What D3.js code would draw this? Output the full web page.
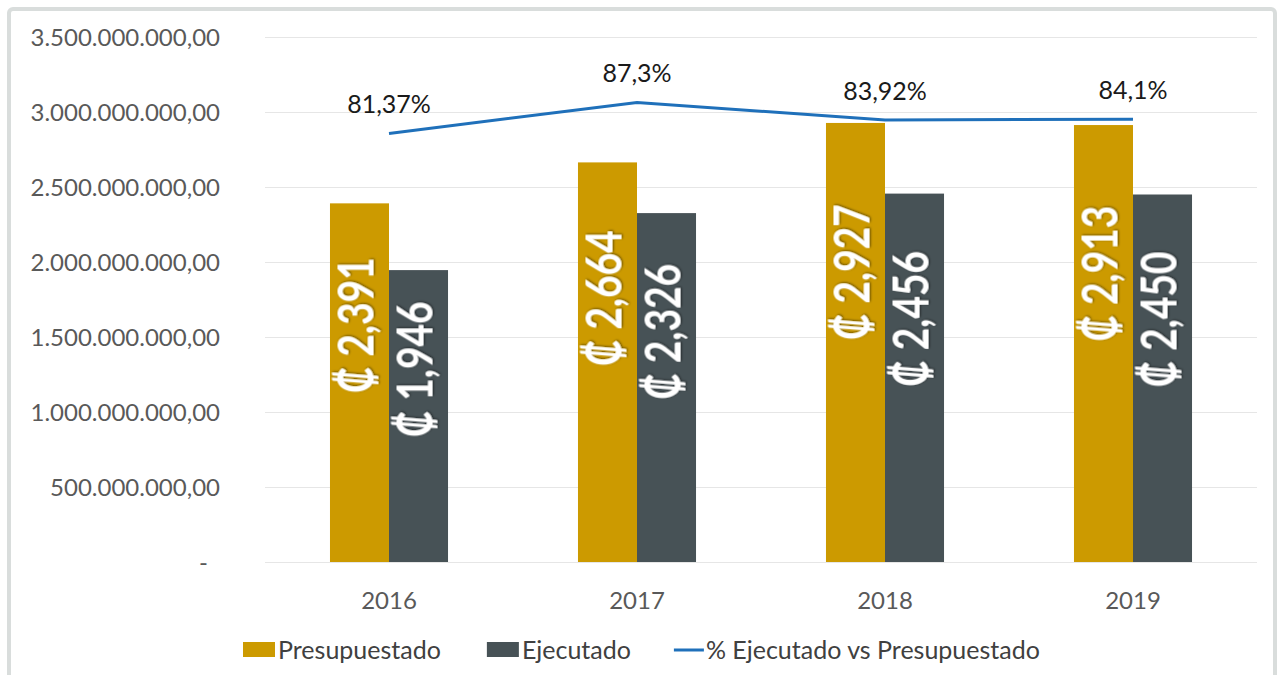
<!DOCTYPE html>
<html>
<head>
<meta charset="utf-8">
<script src="https://cdn.jsdelivr.net/npm/d3@7"></script>
<style>
  body { margin: 0; background: #fff; }
  svg text { font-family: Lato, "Open Sans", sans-serif; }
</style>
</head>
<body>
<div id="chart"></div>
<script>
// data
const years = ["2016", "2017", "2018", "2019"];
const presupuestado = [2391, 2664, 2927, 2913];   // millones de colones
const ejecutado = [1946, 2326, 2456, 2450];
const pctEjecutado = [81.37, 87.3, 83.92, 84.1];
const pctLabels = ["81,37%", "87,3%", "83,92%", "84,1%"];
const yTicks = [0, 500, 1000, 1500, 2000, 2500, 3000, 3500];
const seriesNames = ["Presupuestado", "Ejecutado"];
const lineName = "% Ejecutado vs Presupuestado";

const colors = { Presupuestado: "#CC9A00", Ejecutado: "#475256" };
const lineColor = "#1F70BA";

const W = 1278, H = 675;
const margin = { top: 37, left: 265, right: 21, bottom: 113 };
const width = W - margin.left - margin.right;
const height = H - margin.top - margin.bottom;

const svg = d3.select("#chart").append("svg")
  .attr("width", W)
  .attr("height", H);

// outer frame
svg.append("rect")
  .attr("x", 9).attr("y", 9)
  .attr("width", 1266).attr("height", 700)
  .attr("rx", 4)
  .attr("fill", "none")
  .attr("stroke", "#D9DDDC")
  .attr("stroke-width", 4);

// shadow for bar labels
const defs = svg.append("defs");
defs.append("filter").attr("id", "shadow")
  .attr("x", "-20%").attr("y", "-20%").attr("width", "140%").attr("height", "140%")
  .append("feDropShadow")
  .attr("dx", 1).attr("dy", 1).attr("stdDeviation", 1.2)
  .attr("flood-color", "#000").attr("flood-opacity", 0.55);

const g = svg.append("g")
  .attr("transform", "translate(" + margin.left + "," + margin.top + ")");

const x0 = d3.scaleBand()
  .domain(years)
  .range([0, width])
  .paddingInner(0.524)
  .paddingOuter(0.262);

const x1 = d3.scaleBand()
  .domain(seriesNames)
  .range([0, x0.bandwidth()]);

const y = d3.scaleLinear()
  .domain([0, 3500])
  .range([height, 0]);

const yPct = d3.scaleLinear()
  .domain([0, 100])
  .range([height - 3, -1]);

// gridlines
g.append("g")
  .selectAll("line")
  .data(yTicks)
  .join("line")
  .attr("x1", 0).attr("x2", width)
  .attr("y1", d => Math.round(y(d)) + 0.5)
  .attr("y2", d => Math.round(y(d)) + 0.5)
  .attr("stroke", "#E6E6E6")
  .attr("stroke-width", 1);

// y axis labels
const fmt = d => d === 0 ? "-" : d3.format(",")(d * 1000000).replace(/,/g, ".") + ",00";
g.append("g")
  .selectAll("text")
  .data(yTicks)
  .join("text")
  .attr("x", d => d === 0 ? -57 : -45)
  .attr("y", d => y(d))
  .attr("dy", "0.36em")
  .attr("text-anchor", "end")
  .attr("fill", "#595959")
  .style("font-size", "24px")
  .text(fmt);

// x axis labels
g.append("g")
  .selectAll("text")
  .data(years)
  .join("text")
  .attr("x", d => x0(d) + x0.bandwidth() / 2)
  .attr("y", height + 38)
  .attr("dy", "0.36em")
  .attr("text-anchor", "middle")
  .attr("fill", "#595959")
  .style("font-size", "24px")
  .text(d => d);

// bars
const rows = years.map((yr, i) => ({
  year: yr,
  vals: [
    { key: "Presupuestado", value: presupuestado[i] },
    { key: "Ejecutado", value: ejecutado[i] }
  ]
}));

const groups = g.append("g")
  .selectAll("g")
  .data(rows)
  .join("g")
  .attr("transform", d => "translate(" + x0(d.year) + ",0)");

groups.selectAll("rect")
  .data(d => d.vals)
  .join("rect")
  .attr("x", d => x1(d.key))
  .attr("y", d => y(d.value))
  .attr("width", x1.bandwidth())
  .attr("height", d => height - y(d.value))
  .attr("fill", d => colors[d.key]);

// rotated value labels inside bars (condensed like the original font)
groups.selectAll("text")
  .data(d => d.vals)
  .join("text")
  .attr("transform", d => {
    const cx = x1(d.key) + x1.bandwidth() / 2 - 4;
    const cy = y(d.value) + (height - y(d.value)) * 0.34;
    return "translate(" + cx + "," + cy + ") rotate(-90) scale(0.78,1)";
  })
  .attr("text-anchor", "middle")
  .attr("dy", "0.36em")
  .attr("fill", "#fff")
  .attr("filter", "url(#shadow)")
  .style("font-size", "50px")
  .style("font-weight", "bold")
  .text(d => "\u20A1 " + d3.format(",")(d.value));

// percentage line
const cx = d => x0(d) + x0.bandwidth() / 2;
const line = d3.line()
  .x((d, i) => cx(years[i]))
  .y(d => yPct(d));

g.append("path")
  .datum(pctEjecutado)
  .attr("d", line)
  .attr("fill", "none")
  .attr("stroke", lineColor)
  .attr("stroke-width", 3);

g.append("g")
  .selectAll("text")
  .data(pctEjecutado)
  .join("text")
  .attr("x", (d, i) => cx(years[i]))
  .attr("y", d => yPct(d) - 20)
  .attr("text-anchor", "middle")
  .attr("fill", "#1a1a1a")
  .style("font-size", "25px")
  .text((d, i) => pctLabels[i]);

// legend
const legend = svg.append("g").attr("transform", "translate(243,650)");
let lx = 0;
seriesNames.forEach(name => {
  legend.append("rect")
    .attr("x", lx).attr("y", -8)
    .attr("width", 32).attr("height", 15)
    .attr("fill", colors[name]);
  const t = legend.append("text")
    .attr("x", lx + 35).attr("y", 0)
    .attr("dy", "0.36em")
    .attr("fill", "#404040")
    .style("font-size", "25px")
    .text(name);
  lx += 35 + t.node().getComputedTextLength() + 46;
});
legend.append("line")
  .attr("x1", lx - 3).attr("x2", lx + 27)
  .attr("y1", 0).attr("y2", 0)
  .attr("stroke", lineColor)
  .attr("stroke-width", 3);
legend.append("text")
  .attr("x", lx + 29).attr("y", 0)
  .attr("dy", "0.36em")
  .attr("fill", "#404040")
  .style("font-size", "25px")
  .text(lineName);
</script>
</body>
</html>
